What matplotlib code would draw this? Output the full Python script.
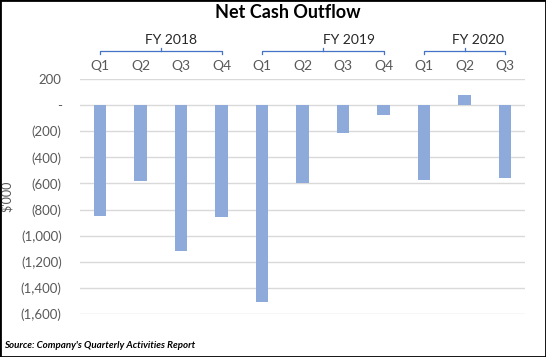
import matplotlib.pyplot as plt
from matplotlib.patches import Rectangle

# Chart data ($'000).
quarters = ['Q1', 'Q2', 'Q3', 'Q4', 'Q1', 'Q2', 'Q3', 'Q4', 'Q1', 'Q2', 'Q3']
cash_flow = [-850, -580, -1120, -860, -1505, -595, -210, -75, -572, 80, -560]
years = ['FY 2018', 'FY 2019', 'FY 2020']
year_spans = [(0, 3), (4, 7), (8, 10)]
year_label_x = [1.75, 6.15, 9.33]
y_ticks = [200, 0, -200, -400, -600, -800, -1000, -1200, -1400, -1600]

bar_color = '#8EAADB'
grey_text = '#595959'

plt.rcParams['font.family'] = ['Lato', 'DejaVu Sans']

fig = plt.figure(figsize=(5.46, 3.57), dpi=100)
ax = fig.add_axes([79.75 / 546, 1 - 314 / 357, 445.5 / 546, 235 / 357])

x_values = list(range(len(cash_flow)))
ax.bar(x_values, cash_flow, width=0.3, color=bar_color, zorder=3)

ax.set_xlim(-0.5, len(cash_flow) - 0.5)
ax.set_ylim(-1600, 200)


def money(v):
    if v == 0:
        return '-'
    if v < 0:
        return '({:,})'.format(-v)
    return '{:,}'.format(v)


ax.set_yticks(y_ticks)
ax.set_yticklabels([money(v) for v in y_ticks])
ax.tick_params(axis='y', length=0, pad=13, labelsize=9.5, labelcolor=grey_text)
ax.grid(axis='y', color='#D9D9D9', linewidth=1, zorder=0)
for s in ax.spines.values():
    s.set_visible(False)

# Quarter labels on top.
ax.xaxis.tick_top()
ax.set_xticks(x_values)
ax.set_xticklabels(quarters)
ax.tick_params(axis='x', length=0, pad=5, labelsize=10, labelcolor=grey_text)

# Year brackets and labels above the quarters.
trans = ax.get_xaxis_transform()
for name, (a, b), lx in zip(years, year_spans, year_label_x):
    yb = 1.119
    ax.plot([a, a, b, b], [yb - 0.014, yb, yb, yb - 0.014], color='#4472C4',
            linewidth=0.9, transform=trans, clip_on=False)
    mid = (a + b) / 2
    ax.plot([mid, mid], [yb, yb + 0.012], color='#4472C4', linewidth=0.9,
            transform=trans, clip_on=False)
    ax.text(lx, yb + 0.022, name, transform=trans, ha='center', va='bottom',
            fontsize=10, color='#262626')

ax.set_ylabel("$'000", fontsize=9, color=grey_text)
ax.yaxis.set_label_coords(-67 / 445.5, 0.5)

fig.text(288 / 546, 1 - 13 / 357, 'Net Cash Outflow', ha='center', va='center',
         fontsize=13, fontweight='bold')
fig.text(4 / 546, 1 - 346 / 357, "Source: Company's Quarterly Activities Report",
         ha='left', va='center', fontsize=7, fontweight='bold', style='italic')

fig.patches.append(Rectangle((0, 0), 1, 1, transform=fig.transFigure,
                             fill=False, edgecolor='black', linewidth=2))

fig.savefig('out.png', dpi=100)
